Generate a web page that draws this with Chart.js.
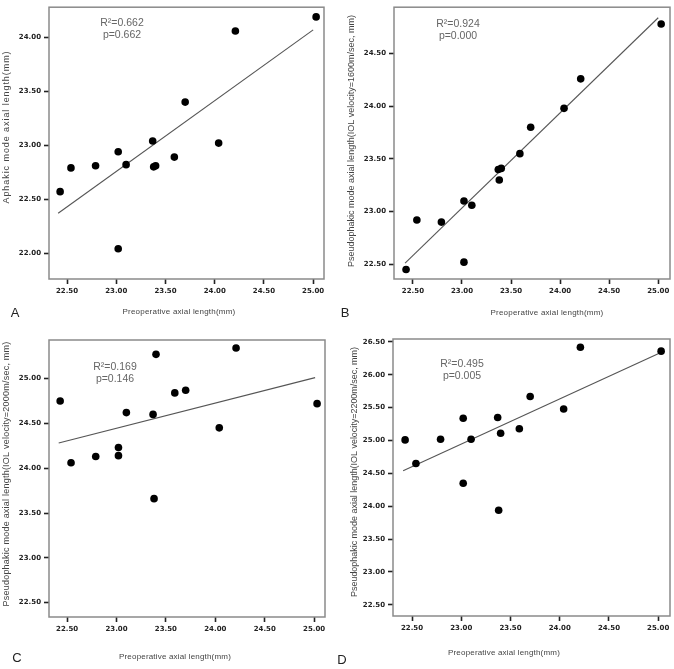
<!DOCTYPE html>
<html>
<head>
<meta charset="utf-8">
<script src="https://cdn.jsdelivr.net/npm/chart.js@4/dist/chart.umd.min.js"></script>
<style>
  html, body { margin: 0; padding: 0; background: #fff; }
  #wrap { position: relative; width: 674px; height: 669px; overflow: hidden; }
  canvas { position: absolute; }
</style>
</head>
<body>
<div id="wrap">
  <canvas id="cA" width="337" height="330" style="left:0;top:0"></canvas>
  <canvas id="cB" width="337" height="330" style="left:337px;top:0"></canvas>
  <canvas id="cC" width="337" height="339" style="left:0;top:330px"></canvas>
  <canvas id="cD" width="337" height="339" style="left:337px;top:330px"></canvas>
</div>
<script>
// dados
const preop = [22.43, 22.54, 22.79, 23.02, 23.02, 23.10, 23.37, 23.38, 23.40, 23.59, 23.70, 24.04, 24.21, 25.03];

const aphakic   = [22.57, 22.79, 22.81, 22.94, 22.04, 22.82, 23.04, 22.80, 22.81, 22.89, 23.40, 23.02, 24.06, 24.19];
const pseudo1600 = [22.45, 22.92, 22.90, 23.10, 22.52, 23.06, 23.40, 23.30, 23.41, 23.55, 23.80, 23.98, 24.26, 24.78];
const pseudo2000 = [24.75, 24.06, 24.13, 24.23, 24.14, 24.62, 24.60, 23.66, 25.27, 24.84, 24.87, 24.45, 25.34, 24.72];
const pseudo2200 = [25.01, 24.65, 25.02, 25.34, 24.35, 25.02, 25.35, 23.94, 25.11, 25.18, 25.67, 25.48, 26.42, 26.36];

// retas de regressão (extremos lidos)
const fitA = [[22.41, 22.37], [25.00, 24.07]];
const fitB = [[22.42, 22.51], [25.00, 24.84]];
const fitC = [[22.415, 24.28], [25.01, 25.01]];
const fitD = [[22.41, 24.54], [25.00, 26.32]];

const xTicks  = [22.5, 23.0, 23.5, 24.0, 24.5, 25.0];
const yTicksA = [22.0, 22.5, 23.0, 23.5, 24.0];
const yTicksB = [22.5, 23.0, 23.5, 24.0, 24.5];
const yTicksC = [22.5, 23.0, 23.5, 24.0, 24.5, 25.0];
const yTicksD = [22.5, 23.0, 23.5, 24.0, 24.5, 25.0, 25.5, 26.0, 26.5];

const stats = {
  A: ['R\u00B2=0.662', 'p=0.662'],
  B: ['R\u00B2=0.924', 'p=0.000'],
  C: ['R\u00B2=0.169', 'p=0.146'],
  D: ['R\u00B2=0.495', 'p=0.005']
};
const xTitle = 'Preoperative axial length(mm)';
const yTitles = {
  A: 'Aphakic mode axial length(mm)',
  B: 'Pseudophakic mode axial length(IOL velocity=1600m/sec, mm)',
  C: 'Pseudophakic mode axial length(IOL velocity=2000m/sec, mm)',
  D: 'Pseudophakic mode axial length(IOL velocity=2200m/sec, mm)'
};

// layout de cada painel
const panels = [
  { id: 'cA', key: 'A', ys: aphakic, fit: fitA, yTicks: yTicksA,
    xr: [22.317, 25.11], yr: [21.76, 24.28],
    yw: 49, xh: 51, pad: { top: 3, right: 13 },
    yT: [7, 127, 153], xT: [179, 312, 113], st: [122, 23], let: [15, 313] },
  { id: 'cB', key: 'B', ys: pseudo1600, fit: fitB, yTicks: yTicksB,
    xr: [22.307, 25.12], yr: [22.36, 24.94],
    yw: 57, xh: 51, pad: { top: 3, right: 3 },
    yT: [15, 141, 252], xT: [210, 313, 113], st: [121, 24], let: [8, 313] },
  { id: 'cC', key: 'C', ys: pseudo2000, fit: fitC, yTicks: yTicksC,
    xr: [22.317, 25.11], yr: [22.34, 25.43],
    yw: 49, xh: 52, pad: { top: 10, right: 12 },
    yT: [7, 144, 265], xT: [175, 327, 112], st: [115, 37], let: [17, 328] },
  { id: 'cD', key: 'D', ys: pseudo2200, fit: fitD, yTicks: yTicksD,
    xr: [22.307, 25.12], yr: [22.33, 26.545],
    yw: 56, xh: 53, pad: { top: 9, right: 3 },
    yT: [18, 142, 250], xT: [167, 323, 112], st: [125, 34], let: [5, 330] }
];

const fitText = (ctx, text, x, y, w, rot) => {
  ctx.save();
  ctx.translate(x, y);
  ctx.rotate(rot);
  ctx.letterSpacing = '0px';
  const m = ctx.measureText(text).width;
  ctx.letterSpacing = ((w - m) / text.length) + 'px';
  ctx.textAlign = 'center';
  ctx.textBaseline = 'middle';
  ctx.fillText(text, 0, 0);
  ctx.restore();
};

const decor = (p) => ({
  id: 'decor' + p.key,
  afterDraw(chart) {
    const ctx = chart.ctx;
    const a = chart.chartArea;
    ctx.save();
    ctx.strokeStyle = '#8a8a8a';
    ctx.lineWidth = 1.5;
    ctx.strokeRect(a.left, a.top, a.right - a.left, a.bottom - a.top);

    ctx.fillStyle = '#444';
    ctx.font = '9px "Liberation Sans", Arial, sans-serif';
    fitText(ctx, yTitles[p.key], p.yT[0], p.yT[1], p.yT[2], -Math.PI / 2);
    ctx.font = '8px "Liberation Sans", Arial, sans-serif';
    fitText(ctx, xTitle, p.xT[0], p.xT[1], p.xT[2], 0);

    ctx.fillStyle = '#666';
    ctx.font = '10.5px "Liberation Sans", Arial, sans-serif';
    ctx.textAlign = 'center';
    ctx.textBaseline = 'middle';
    ctx.fillText(stats[p.key][0], p.st[0], p.st[1]);
    ctx.fillText(stats[p.key][1], p.st[0], p.st[1] + 12);

    ctx.fillStyle = '#222';
    ctx.font = '13px "Liberation Sans", Arial, sans-serif';
    ctx.fillText(p.key, p.let[0], p.let[1]);
    ctx.restore();
  }
});

panels.forEach(p => {
  const ctx = document.getElementById(p.id).getContext('2d');
  new Chart(ctx, {
    type: 'scatter',
    data: {
      datasets: [
        {
          type: 'line',
          data: p.fit.map(([x, y]) => ({ x, y })),
          borderColor: '#555',
          borderWidth: 1.1,
          pointRadius: 0,
          fill: false,
          order: 1
        },
        {
          data: preop.map((x, i) => ({ x, y: p.ys[i] })),
          backgroundColor: '#000',
          borderWidth: 0,
          pointRadius: 3.8,
          order: 0
        }
      ]
    },
    options: {
      responsive: false,
      animation: false,
      devicePixelRatio: 1,
      layout: { padding: { left: 0, bottom: 0, top: p.pad.top, right: p.pad.right } },
      plugins: { legend: { display: false }, tooltip: { enabled: false } },
      scales: {
        x: {
          type: 'linear',
          min: p.xr[0], max: p.xr[1],
          afterBuildTicks: s => { s.ticks = xTicks.map(v => ({ value: v })); },
          afterFit: s => { s.height = p.xh; },
          grid: { drawOnChartArea: false, drawTicks: true, tickLength: 5, tickWidth: 1.6, tickColor: '#222' },
          border: { display: false },
          ticks: {
            padding: 3,
            color: '#222',
            font: { family: '"DejaVu Sans"', size: 7, weight: 'bold' },
            maxRotation: 0,
            autoSkip: false,
            callback: v => v.toFixed(2)
          }
        },
        y: {
          type: 'linear',
          min: p.yr[0], max: p.yr[1],
          afterBuildTicks: s => { s.ticks = p.yTicks.map(v => ({ value: v })); },
          afterFit: s => { s.width = p.yw; },
          grid: { drawOnChartArea: false, drawTicks: true, tickLength: 5, tickWidth: 1.6, tickColor: '#222' },
          border: { display: false },
          ticks: {
            padding: 3,
            color: '#222',
            font: { family: '"DejaVu Sans"', size: 7, weight: 'bold' },
            autoSkip: false,
            callback: v => v.toFixed(2)
          }
        }
      }
    },
    plugins: [decor(p)]
  });
});
</script>
</body>
</html>
